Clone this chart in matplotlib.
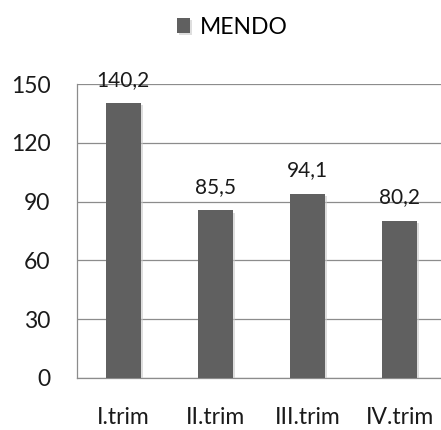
import matplotlib.pyplot as plt
import matplotlib.patheffects as pe

categories = ["I.trim", "II.trim", "III.trim", "IV.trim"]
values = [140.2, 85.5, 94.1, 80.2]
value_labels = ["140,2", "85,5", "94,1", "80,2"]
series_name = "MENDO"

plt.rcParams['font.family'] = ['Lato', 'DejaVu Sans']

fig = plt.figure(figsize=(4.41, 4.30), dpi=100)
# axes runs slightly past the right edge, like the cropped original
ax = fig.add_axes([77 / 441, 1 - 378 / 430, (446 - 77) / 441, (378 - 84) / 430])

x = range(len(categories))
bars = ax.bar(x, values, width=0.38, color="#606060", zorder=3, label=series_name,
              path_effects=[pe.SimplePatchShadow(offset=(1.5, -1.5), shadow_rgbFace="#c8c8c8", alpha=0.6),
                            pe.Normal()])

for xi, v, lab in zip(x, values, value_labels):
    ax.annotate(lab, (xi, v), xytext=(0, 17), textcoords="offset points",
                ha="center", va="center", fontsize=15, color="#1a1a1a")

ax.set_xlim(-0.5, 3.5)
ax.set_ylim(0, 150)
ax.set_yticks([0, 30, 60, 90, 120, 150])
ax.set_xticks(list(x))
ax.set_xticklabels(categories)
ax.tick_params(axis="both", length=0, labelsize=16.5, colors="#1a1a1a")
ax.tick_params(axis="y", pad=19)
ax.tick_params(axis="x", pad=21)
ax.yaxis.grid(True, color="#8c8c8c", linewidth=0.9, zorder=0)
for s in ["top", "right"]:
    ax.spines[s].set_visible(False)
for s in ["left", "bottom"]:
    ax.spines[s].set_color("#8c8c8c")
    ax.spines[s].set_linewidth(0.9)

fig.legend(handles=[bars], labels=[series_name], loc="center", bbox_to_anchor=(232 / 441, 1 - 27 / 430),
           frameon=False, fontsize=16.5, handlelength=0.6, handleheight=0.6, handletextpad=0.4)

fig.savefig("out.png", dpi=100)
